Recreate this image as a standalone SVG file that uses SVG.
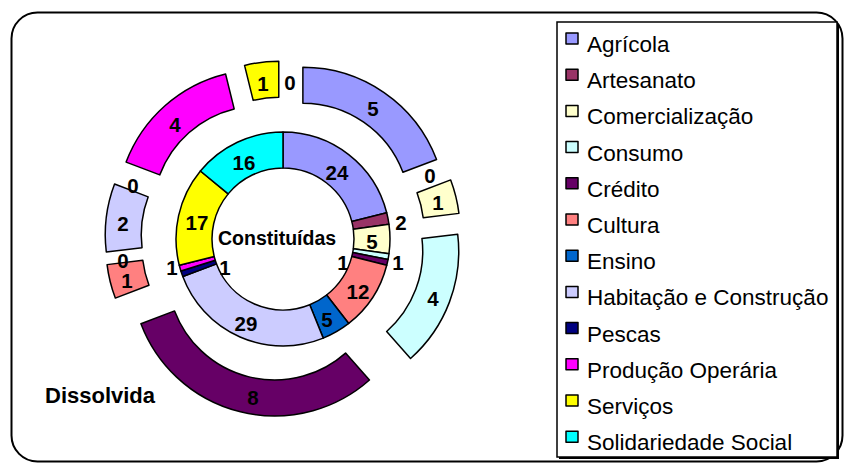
<svg xmlns="http://www.w3.org/2000/svg" width="845" height="464" viewBox="0 0 845 464">
<style>
.s{stroke:#000;stroke-width:1.5;stroke-linejoin:round}
.lab{font-family:"Liberation Sans",Arial,sans-serif;font-weight:bold;font-size:20.5px;fill:#000;text-anchor:middle}
.leg{font-family:"Liberation Sans",Arial,sans-serif;font-size:22.5px;fill:#000}
.ttl{font-family:"Liberation Sans",Arial,sans-serif;font-weight:bold;fill:#000}
.agr{fill:#9999FF}.art{fill:#993366}.com{fill:#FFFFCC}.con{fill:#CCFFFF}.cre{fill:#660066}.cul{fill:#FF8080}
.ens{fill:#0066CC}.hab{fill:#CCCCFF}.pes{fill:#000080}.pro{fill:#FF00FF}.ser{fill:#FFFF00}.sol{fill:#00FFFF}
</style>
<rect x="0" y="0" width="845" height="464" fill="#fff"/>
<rect id="frame" x="11.5" y="12.5" width="831" height="449" rx="26" ry="26" fill="#fff" stroke="#000" stroke-width="2"/>

<g id="inner-ring">
<g id="in-agricola"><path class="s agr" d="M283,132 A107,107 0 0 1 386.72,212.73 L351.83,221.57 A71,71 0 0 0 283,168 Z"/><text class="lab" x="337" y="179.5">24</text></g>
<g id="in-artesanato"><path class="s art" d="M386.72,212.73 A107,107 0 0 1 388.98,224.30 L353.33,229.25 A71,71 0 0 0 351.83,221.57 Z"/><text class="lab" x="401" y="229.5">2</text></g>
<g id="in-comercializacao"><path class="s com" d="M388.98,224.30 A107,107 0 0 1 388.98,253.70 L353.33,248.75 A71,71 0 0 0 353.33,229.25 Z"/><text class="lab" x="372" y="248.5">5</text></g>
<g id="in-consumo"><path class="s con" d="M388.98,253.70 A107,107 0 0 1 388.02,259.51 L352.68,252.61 A71,71 0 0 0 353.33,248.75 Z"/><text class="lab" x="398" y="269.5">1</text></g>
<g id="in-credito"><path class="s cre" d="M388.02,259.51 A107,107 0 0 1 386.72,265.27 L351.83,256.43 A71,71 0 0 0 352.68,252.61 Z"/><text class="lab" x="343" y="269.5">1</text></g>
<g id="in-cultura"><path class="s cul" d="M386.72,265.27 A107,107 0 0 1 348.72,323.44 L326.61,295.03 A71,71 0 0 0 351.83,256.43 Z"/><text class="lab" x="358" y="298.5">12</text></g>
<g id="in-ensino"><path class="s ens" d="M348.72,323.44 A107,107 0 0 1 323.26,338.13 L309.72,304.78 A71,71 0 0 0 326.61,295.03 Z"/><text class="lab" x="327" y="326.5">5</text></g>
<g id="in-habitacao"><path class="s hab" d="M323.26,338.13 A107,107 0 0 1 182.80,276.52 L216.51,263.89 A71,71 0 0 0 309.72,304.78 Z"/><text class="lab" x="246" y="330.5">29</text></g>
<g id="in-pescas"><path class="s pes" d="M182.80,276.52 A107,107 0 0 1 180.88,270.94 L215.24,260.19 A71,71 0 0 0 216.51,263.89 Z"/><text class="lab" x="172" y="274.5">1</text></g>
<g id="in-producao"><path class="s pro" d="M180.88,270.94 A107,107 0 0 1 179.28,265.27 L214.17,256.43 A71,71 0 0 0 215.24,260.19 Z"/><text class="lab" x="225" y="274.5">1</text></g>
<g id="in-servicos"><path class="s ser" d="M179.28,265.27 A107,107 0 0 1 200.41,170.98 L228.20,193.87 A71,71 0 0 0 214.17,256.43 Z"/><text class="lab" x="197" y="230">17</text></g>
<g id="in-solidariedade"><path class="s sol" d="M200.41,170.98 A107,107 0 0 1 283,132 L283,168 A71,71 0 0 0 228.20,193.87 Z"/><text class="lab" x="244" y="169.5">16</text></g>
</g>

<g id="outer-ring">
<g id="out-agricola"><path class="s agr" transform="translate(19.88,-28.80)" d="M283,96 A143,143 0 0 1 416.70,188.29 L383.04,201.06 A107,107 0 0 0 283,132 Z"/><text class="lab" x="373" y="115.5">5</text></g>
<g id="out-artesanato"><text class="lab" x="430" y="182.5">0</text></g>
<g id="out-comercializacao"><path class="s com" transform="translate(33.98,-8.38)" d="M416.70,188.29 A143,143 0 0 1 424.96,221.76 L389.22,226.10 A107,107 0 0 0 383.04,201.06 Z"/><text class="lab" x="438" y="209.5">1</text></g>
<g id="out-consumo"><path class="s con" transform="translate(32.72,12.41)" d="M424.96,221.76 A143,143 0 0 1 377.82,346.03 L353.95,319.09 A107,107 0 0 0 389.22,226.10 Z"/><text class="lab" x="433" y="305.5">4</text></g>
<g id="out-credito"><path class="s cre" transform="translate(-8.38,33.98)" d="M377.82,346.03 A143,143 0 0 1 149.30,289.71 L182.96,276.94 A107,107 0 0 0 353.95,319.09 Z"/><text class="lab" x="253" y="404.5">8</text></g>
<g id="out-cultura"><path class="s cul" transform="translate(-33.98,8.38)" d="M149.30,289.71 A143,143 0 0 1 141.04,256.24 L176.78,251.90 A107,107 0 0 0 182.96,276.94 Z"/><text class="lab" x="127" y="287.5">1</text></g>
<g id="out-ensino"><text class="lab" x="123" y="267.5">0</text></g>
<g id="out-habitacao"><path class="s hab" transform="translate(-34.74,-4.22)" d="M141.04,256.24 A143,143 0 0 1 149.30,188.29 L182.96,201.06 A107,107 0 0 0 176.78,251.90 Z"/><text class="lab" x="123" y="230.5">2</text></g>
<g id="out-pescas"><text class="lab" x="133" y="192.5">0</text></g>
<g id="out-producao"><path class="s pro" transform="translate(-23.21,-26.20)" d="M149.30,188.29 A143,143 0 0 1 248.78,100.16 L257.39,135.11 A107,107 0 0 0 182.96,201.06 Z"/><text class="lab" x="175" y="131.5">4</text></g>
<g id="out-servicos"><path class="s ser" transform="translate(-4.22,-34.74)" d="M248.78,100.16 A143,143 0 0 1 283,96 L283,132 A107,107 0 0 0 257.39,135.11 Z"/><text class="lab" x="263" y="90.5">1</text></g>
<g id="out-solidariedade"><text class="lab" x="290" y="89.5">0</text></g>
</g>

<g id="titles">
<text class="ttl" x="218" y="245" font-size="19.5">Constituídas</text>
<text class="ttl" x="45" y="403" font-size="22">Dissolvida</text>
</g>

<g id="legend">
<rect x="559" y="24" width="280" height="435" fill="#000"/>
<rect x="557" y="22" width="280" height="435" fill="#fff" stroke="#000" stroke-width="1.5"/>
<g id="leg-agricola"><rect class="s agr" x="566" y="33" width="12" height="11"/><text class="leg" x="587" y="52">Agrícola</text></g>
<g id="leg-artesanato"><rect class="s art" x="566" y="69.2" width="12" height="11"/><text class="leg" x="587" y="88.2">Artesanato</text></g>
<g id="leg-comercializacao"><rect class="s com" x="566" y="105.4" width="12" height="11"/><text class="leg" x="587" y="124.4">Comercialização</text></g>
<g id="leg-consumo"><rect class="s con" x="566" y="141.6" width="12" height="11"/><text class="leg" x="587" y="160.6">Consumo</text></g>
<g id="leg-credito"><rect class="s cre" x="566" y="177.8" width="12" height="11"/><text class="leg" x="587" y="196.8">Crédito</text></g>
<g id="leg-cultura"><rect class="s cul" x="566" y="214" width="12" height="11"/><text class="leg" x="587" y="233">Cultura</text></g>
<g id="leg-ensino"><rect class="s ens" x="566" y="250.2" width="12" height="11"/><text class="leg" x="587" y="269.2">Ensino</text></g>
<g id="leg-habitacao"><rect class="s hab" x="566" y="286.4" width="12" height="11"/><text class="leg" x="587" y="305.4">Habitação e Construção</text></g>
<g id="leg-pescas"><rect class="s pes" x="566" y="322.6" width="12" height="11"/><text class="leg" x="587" y="341.6">Pescas</text></g>
<g id="leg-producao"><rect class="s pro" x="566" y="358.8" width="12" height="11"/><text class="leg" x="587" y="377.8">Produção Operária</text></g>
<g id="leg-servicos"><rect class="s ser" x="566" y="395" width="12" height="11"/><text class="leg" x="587" y="414">Serviços</text></g>
<g id="leg-solidariedade"><rect class="s sol" x="566" y="431.2" width="12" height="11"/><text class="leg" x="587" y="450.2">Solidariedade Social</text></g>
</g>
</svg>
